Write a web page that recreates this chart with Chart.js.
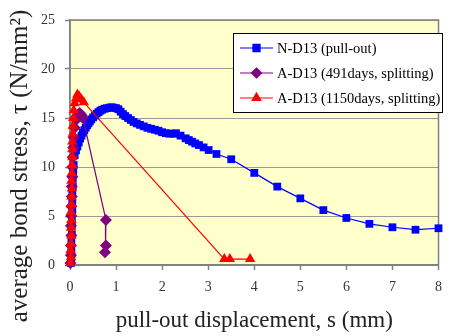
<!DOCTYPE html>
<html>
<head>
<meta charset="utf-8">
<script src="https://cdn.jsdelivr.net/npm/chart.js@4"></script>
<style>
  html, body { margin: 0; padding: 0; background: #fff; }
</style>
</head>
<body>
<canvas id="bond" width="451" height="336"></canvas>
<script>
// ---- data ----
const labels = ['N-D13 (pull-out)', 'A-D13 (491days, splitting)', 'A-D13 (1150days, splitting)'];
const xTicks = [0, 1, 2, 3, 4, 5, 6, 7, 8];
const yTicks = [0, 5, 10, 15, 20, 25];
const yTitle = 'average bond stress, τ (N/mm²)';

// N-D13 (pull-out)
const nX = [0.02,0.03,0.03,0.03,0.04,0.04,0.04,0.05,0.05,0.05,0.06,0.06,0.07,0.08,
            0.10,0.13,0.16,0.19,0.22,0.25,0.28,0.31,0.34,0.37,0.40,0.43,0.46,0.50,0.54,0.58,0.62,0.66,0.70,0.75,0.80,0.85,0.90,0.95,1.00,1.05,1.10,1.15,1.20,
            1.26,1.32,1.38,1.45,1.52,1.60,1.68,1.76,1.84,1.92,2.00,2.08,2.16,2.24,2.30,2.40,2.51,2.58,2.65,2.72,2.80,2.90,3.01,3.18,3.50,
            4.0,4.5,5.0,5.5,6.0,6.5,7.0,7.5,8.0];
const nY = [0.2,0.8,1.5,2.3,3.1,4.0,4.8,5.6,6.4,7.2,8.0,8.8,9.5,10.2,
            11.2,11.7,12.1,12.5,12.9,13.2,13.5,13.75,14.0,14.25,14.45,14.65,14.85,15.05,15.25,15.45,15.6,15.75,15.85,15.95,16.0,16.05,16.1,16.05,16.0,15.9,15.65,15.4,15.2,
            15.0,14.8,14.6,14.45,14.3,14.15,14.0,13.9,13.8,13.7,13.55,13.45,13.4,13.4,13.44,13.2,12.93,12.75,12.58,12.4,12.24,12.0,11.73,11.33,10.79,
            9.4,8.0,6.8,5.6,4.8,4.2,3.85,3.6,3.75];

// A-D13 (491days, splitting)
const aX = [0.01,0.02,0.02,0.03,0.02,0.03,0.03,0.04,0.04,0.05,0.05,0.06,0.07,0.08,0.10,0.13,0.17,0.21,0.25,0.28,0.78,0.78,0.76];
const aY = [0.2,1.0,2.0,3.0,4.0,5.0,6.0,7.0,8.0,9.0,10.0,11.0,12.0,13.0,14.0,14.8,15.3,15.5,15.3,15.0,4.6,2.0,1.3];

// A-D13 (1150days, splitting)
const bX = [0.01,0.02,0.01,0.02,0.03,0.02,0.03,0.02,0.03,0.03,0.04,0.03,0.04,0.04,0.05,0.05,0.05,0.06,0.06,0.07,0.08,0.10,0.13,0.16,0.20,0.25,0.30,3.35,3.47,3.91];
const bY = [0.2,0.8,1.5,2.2,3.0,3.8,4.6,5.4,6.2,7.0,7.8,8.6,9.4,10.2,11.0,11.8,12.6,13.4,14.2,15.0,15.8,16.5,17.0,17.4,17.2,16.9,16.6,0.6,0.6,0.6];

const pts = (xs, ys) => xs.map((x, i) => ({ x: x, y: ys[i] }));

const SERIF = "'Liberation Serif', 'DejaVu Serif', serif";
const GRID = '#9a9a9a';
const AXIS = '#808080';

// plot background + frame (Excel style)
const plotFrame = {
  id: 'plotFrame',
  beforeDraw(chart) {
    const a = chart.chartArea, ctx = chart.ctx;
    ctx.save();
    ctx.fillStyle = '#ffffcc';
    ctx.fillRect(a.left, a.top, a.right - a.left, a.bottom - a.top);
    ctx.restore();
  },
  beforeDatasetsDraw(chart) {
    const a = chart.chartArea, ctx = chart.ctx;
    ctx.save();
    ctx.strokeStyle = AXIS;
    ctx.lineWidth = 1.5;
    ctx.strokeRect(a.left, a.top, a.right - a.left, a.bottom - a.top);
    ctx.restore();
  },
  // y title sits lower than the plot centre in the original, so draw it by hand
  afterDraw(chart) {
    const ctx = chart.ctx;
    ctx.save();
    ctx.translate(20, 166);
    ctx.rotate(-Math.PI / 2);
    ctx.font = '25px ' + SERIF;
    ctx.fillStyle = '#222';
    ctx.textAlign = 'center';
    ctx.textBaseline = 'middle';
    ctx.fillText(yTitle, 0, 0);
    ctx.restore();
  }
};

// legend box inside the plot, top right
const legendBox = {
  id: 'legendBox',
  afterDraw(chart) {
    const ctx = chart.ctx;
    ctx.save();
    ctx.fillStyle = '#fff';
    ctx.fillRect(233.5, 33.5, 209, 79);
    ctx.strokeStyle = '#000';
    ctx.lineWidth = 1;
    ctx.strokeRect(233.5, 33.5, 209, 79);
    ctx.font = '14.5px ' + SERIF;
    ctx.textBaseline = 'middle';
    chart.data.datasets.forEach((ds, i) => {
      const y = 48 + i * 25;
      ctx.strokeStyle = ds.borderColor;
      ctx.lineWidth = 1.2;
      ctx.beginPath(); ctx.moveTo(240, y); ctx.lineTo(273, y); ctx.stroke();
      ctx.fillStyle = ds.backgroundColor;
      ctx.strokeStyle = ds.backgroundColor;
      Chart.helpers.drawPoint(ctx, { pointStyle: ds.pointStyle, radius: 5, borderWidth: 1, rotation: 0 }, 256.5, y);
      ctx.fillStyle = '#000';
      ctx.fillText(ds.label, 277, y + 1);
    });
    ctx.restore();
  }
};

new Chart(document.getElementById('bond'), {
  type: 'scatter',
  data: {
    datasets: [
      { label: labels[0], data: pts(nX, nY), showLine: true, borderColor: '#0000ff', backgroundColor: '#0000ff',
        borderWidth: 1.2, pointStyle: 'rect', pointRadius: 5.5, pointBorderWidth: 0, clip: false, order: 3 },
      { label: labels[1], data: pts(aX, aY), showLine: true, borderColor: '#800080', backgroundColor: '#800080',
        borderWidth: 1.2, pointStyle: 'rectRot', pointRadius: 6, pointBorderWidth: 0, clip: false, order: 2 },
      { label: labels[2], data: pts(bX, bY), showLine: true, borderColor: '#ff0000', backgroundColor: '#ff0000',
        borderWidth: 1.2, pointStyle: 'triangle', pointRadius: 6, pointBorderWidth: 0, clip: false, order: 1 }
    ]
  },
  options: {
    responsive: false,
    animation: false,
    devicePixelRatio: 1,
    layout: { padding: { top: 20, right: 4, left: 0, bottom: 0 } },
    plugins: { legend: { display: false }, tooltip: { enabled: false } },
    scales: {
      x: {
        type: 'linear', min: 0, max: 8,
        afterFit: s => { s.height = 71; },
        afterBuildTicks: s => { s.ticks = xTicks.map(v => ({ value: v })); },
        grid: { drawOnChartArea: false, drawTicks: true, tickLength: 5, tickColor: AXIS, tickWidth: 1.5 },
        border: { color: AXIS, width: 1.5 },
        ticks: { padding: 9, color: '#333', font: { family: SERIF, size: 14 } },
        title: { display: true, text: 'pull-out displacement, s (mm)', color: '#222',
                 font: { family: SERIF, size: 23 }, padding: { top: 0, bottom: 1 } }
      },
      y: {
        type: 'linear', min: 0, max: 25,
        afterFit: s => { s.width = 70; },
        afterBuildTicks: s => { s.ticks = yTicks.map(v => ({ value: v })); },
        grid: { color: GRID, lineWidth: 1, drawTicks: true, tickLength: 5, tickColor: AXIS, tickWidth: 1.5 },
        border: { color: AXIS, width: 1.5 },
        ticks: { padding: 10, color: '#333', font: { family: SERIF, size: 14 } },
        title: { display: false }
      }
    }
  },
  plugins: [plotFrame, legendBox]
});
</script>
</body>
</html>
